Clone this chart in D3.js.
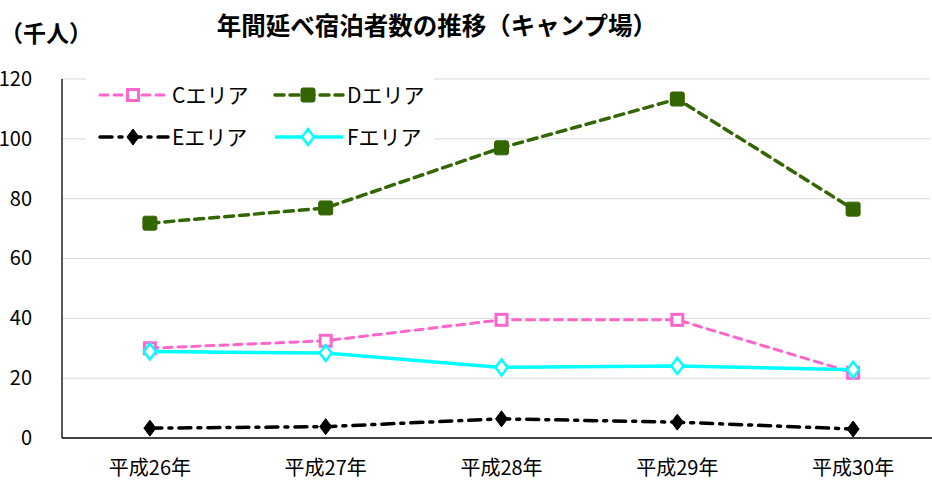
<!DOCTYPE html>
<html><head><meta charset="utf-8">
<script src="https://cdn.jsdelivr.net/npm/d3@7"></script>
<style>body{margin:0;background:#fff;}svg{display:block;font-family:"Noto Sans CJK JP","Noto Sans",sans-serif;}</style>
</head><body>
<svg id="c" width="932" height="485"></svg>
<script>
const categories = ["平成26年","平成27年","平成28年","平成29年","平成30年"];
const seriesC = [30, 32.5, 39.5, 39.5, 21.8];
const seriesD = [71.8, 76.9, 97, 113.3, 76.5];
const seriesE = [3.3, 3.8, 6.4, 5.3, 3.0];
const seriesF = [28.9, 28.4, 23.6, 24.1, 22.8];
const yTicks = [0,20,40,60,80,100,120];
const seriesNames = ["Cエリア","Dエリア","Eエリア","Fエリア"];
const title = "年間延べ宿泊者数の推移（キャンプ場）";
const unit = "（千人）";

const svg = d3.select("#c");
const L = 62, R = 941, T = 79, B = 438;
const x = d3.scaleBand().domain(categories).range([L, R]);
const y = d3.scaleLinear().domain([0,120]).range([B, T]);

// gridlines
svg.append("g").selectAll("line").data(yTicks.filter(d=>d>0)).join("line")
  .attr("x1", L).attr("x2", 930).attr("y1", d=>y(d)).attr("y2", d=>y(d))
  .attr("stroke", "#d9d9d9").attr("stroke-width", 1);

// y axis labels
const ya = svg.append("g").attr("transform", `translate(${L},0)`)
  .call(d3.axisLeft(y).tickValues(yTicks).tickSize(0).tickPadding(30));
ya.select(".domain").remove();
ya.selectAll("text").attr("font-size", 20).attr("fill", "#000")
  .attr("font-family", '"Noto Sans CJK JP",sans-serif');

// x axis
const xa = svg.append("g").attr("transform", `translate(0,${B})`)
  .call(d3.axisBottom(x).tickSize(0).tickPadding(23));
xa.select(".domain").remove();
xa.selectAll("text").attr("font-size", 20).attr("fill", "#000")
  .attr("font-family", '"Noto Sans CJK JP",sans-serif');
svg.append("line").attr("x1", L).attr("x2", 932).attr("y1", B).attr("y2", B).attr("stroke", "#000").attr("stroke-width", 1.3);
svg.append("line").attr("x1", L).attr("x2", L).attr("y1", T).attr("y2", B).attr("stroke", "#000").attr("stroke-width", 1.3);

const cx = d => x(d) + x.bandwidth()/2;
const line = d3.line().x((d,i)=>cx(categories[i])).y(d=>y(d));

const styles = [
  {data: seriesC, color:"#ff66cc", dash:"8,6", width:3, marker:"sq", fill:"#fff"},
  {data: seriesD, color:"#336600", dash:"9,6", width:3.5, marker:"sq", fill:"#336600"},
  {data: seriesE, color:"#000", dash:"12,7,3,7", width:3.5, marker:"dia", fill:"#000"},
  {data: seriesF, color:"#00ffff", dash:null, width:3.5, marker:"dia", fill:"#fff"}
];

function drawMarker(g, type, fill, color, px, py) {
  if (type === "sq") {
    const s = fill === "#fff" ? 11 : 14;
    g.append("rect").attr("x", px - s/2).attr("y", py - s/2).attr("width", s).attr("height", s)
      .attr("rx", fill === "#fff" ? 0 : 2)
      .attr("fill", fill).attr("stroke", color).attr("stroke-width", fill === "#fff" ? 3 : 1);
  } else {
    const w = 6, h = 8;
    g.append("path").attr("d", `M${px},${py-h}L${px+w},${py}L${px},${py+h}L${px-w},${py}Z`)
      .attr("fill", fill).attr("stroke", color).attr("stroke-width", fill === "#fff" ? 2.5 : 1);
  }
}

[1,0,3,2].forEach(k => {
  const s = styles[k];
  const g = svg.append("g");
  g.append("path").datum(s.data).attr("d", line).attr("fill","none")
    .attr("stroke", s.color).attr("stroke-width", s.width)
    .attr("stroke-dasharray", s.dash).attr("stroke-linecap", s.dash ? "round" : "butt");
  s.data.forEach((v,i) => drawMarker(g, s.marker, s.fill, s.color, cx(categories[i]), y(v)));
});

// legend
const lg = svg.append("g");
lg.append("rect").attr("x", 86).attr("y", 72).attr("width", 348).attr("height", 88).attr("fill", "#fff");
const pos = [[100,95],[275,95],[100,137],[275,137]];
styles.forEach((s,k) => {
  const [lx, ly] = pos[k];
  lg.append("line").attr("x1", lx).attr("x2", lx+68).attr("y1", ly).attr("y2", ly)
    .attr("stroke", s.color).attr("stroke-width", s.width)
    .attr("stroke-dasharray", s.dash).attr("stroke-linecap", s.dash ? "round" : "butt");
  drawMarker(lg, s.marker, s.fill, s.color, lx+33, ly);
  lg.append("text").attr("x", lx+72).attr("y", ly+8).attr("font-size", 21).attr("fill","#000")
    .text(seriesNames[k]);
});

// title
svg.append("text").attr("x", 437).attr("y", 35).attr("text-anchor","middle")
  .attr("font-size", 24.5).attr("font-weight","bold").text(title);
svg.append("text").attr("x", 0).attr("y", 42)
  .attr("font-size", 23).attr("font-weight","bold").text(unit);
</script>
</body></html>
